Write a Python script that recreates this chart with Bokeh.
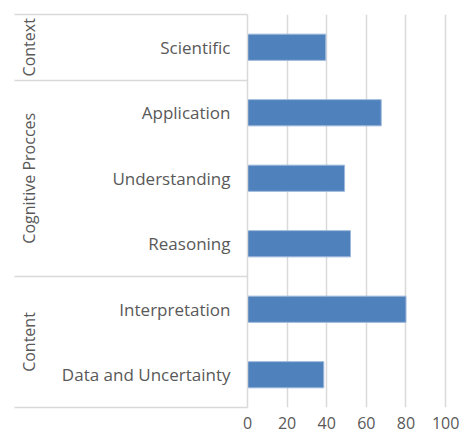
from bokeh.plotting import figure
from bokeh.models import FixedTicker, Range1d, LinearAxis
from bokeh.embed import file_html
from bokeh.resources import INLINE

# ---- data (top to bottom as in the chart) ----
groups = ["Context", "Cognitive Procces", "Cognitive Procces", "Cognitive Procces", "Content", "Content"]
categories = ["Scientific", "Application", "Understanding", "Reasoning", "Interpretation", "Data and Uncertainty"]
values = [39.5, 67.5, 49, 52, 80, 38.5]
x_ticks = [0, 20, 40, 60, 80, 100]

n = len(categories)
# slot positions (top row first), derived from the category order
ypos = [n - i - 0.5 for i in range(n)]

# group boundaries and group centres
group_names = list(dict.fromkeys(groups))
bounds = [float(n)]
centres = []
for g in group_names:
    cnt = groups.count(g)
    centres.append(bounds[-1] - cnt / 2)
    bounds.append(bounds[-1] - cnt)

FONT = "Open Sans"
TXT = "#595959"
GRID = "#d9d9d9"

p = figure(
    width=461, height=438,
    y_range=Range1d(0, n), x_range=Range1d(0, 105.5),
    output_backend="svg", toolbar_location=None,
    min_border_left=247, min_border_right=5, min_border_top=14, min_border_bottom=31,
)
p.outline_line_color = None
p.background_fill_color = "white"

p.hbar(y=ypos, right=values, left=0, height=0.4,
       fill_color="#4F81BD", line_color="#9db8da", line_width=1)

# x axis
p.xaxis.ticker = FixedTicker(ticks=x_ticks)
p.xaxis.axis_line_color = None
p.xaxis.major_tick_line_color = None
p.xaxis.major_tick_out = 0
p.xaxis.minor_tick_line_color = None
p.xaxis.major_label_standoff = 9
p.xaxis.major_label_text_font = FONT
p.xaxis.major_label_text_font_size = "16px"
p.xaxis.major_label_text_color = TXT

p.xgrid.ticker = FixedTicker(ticks=x_ticks)
p.xgrid.grid_line_color = GRID
p.xgrid.grid_line_width = 1.5
p.ygrid.grid_line_color = None

# y axis: category labels
ya = p.yaxis[0]
ya.ticker = FixedTicker(ticks=ypos)
ya.major_label_overrides = {y: c for y, c in zip(ypos, categories)}
ya.axis_line_color = GRID
ya.axis_line_width = 1.5
ya.major_tick_line_color = None
ya.major_tick_out = 0
ya.major_tick_in = 0
ya.minor_tick_line_color = None
ya.major_label_standoff = 17
ya.major_label_text_font = FONT
ya.major_label_text_font_size = "17px"
ya.major_label_text_color = TXT

# group labels (rotated)
ga = LinearAxis(ticker=FixedTicker(ticks=centres))
ga.major_label_overrides = {y: g for y, g in zip(centres, group_names)}
ga.major_label_orientation = "vertical"
ga.axis_line_color = None
ga.major_tick_line_color = None
ga.major_tick_out = 0
ga.major_tick_in = 0
ga.minor_tick_line_color = None
ga.major_label_standoff = 19
ga.major_label_text_font = FONT
ga.major_label_text_font_size = "16px"
ga.major_label_text_color = TXT
p.add_layout(ga, "left")

# table lines of the label column: inward ticks of an outer axis at group boundaries
tab = LinearAxis(ticker=FixedTicker(ticks=bounds))
tab.axis_line_color = None
tab.minor_tick_line_color = None
tab.major_tick_out = 0
tab.major_tick_in = 233
tab.major_tick_line_color = GRID
tab.major_tick_line_width = 1.5
tab.major_label_text_font_size = "1px"
tab.major_label_text_color = None
tab.major_label_standoff = 0
p.add_layout(tab, "left")

open("out.html", "w").write(file_html(p, INLINE))
